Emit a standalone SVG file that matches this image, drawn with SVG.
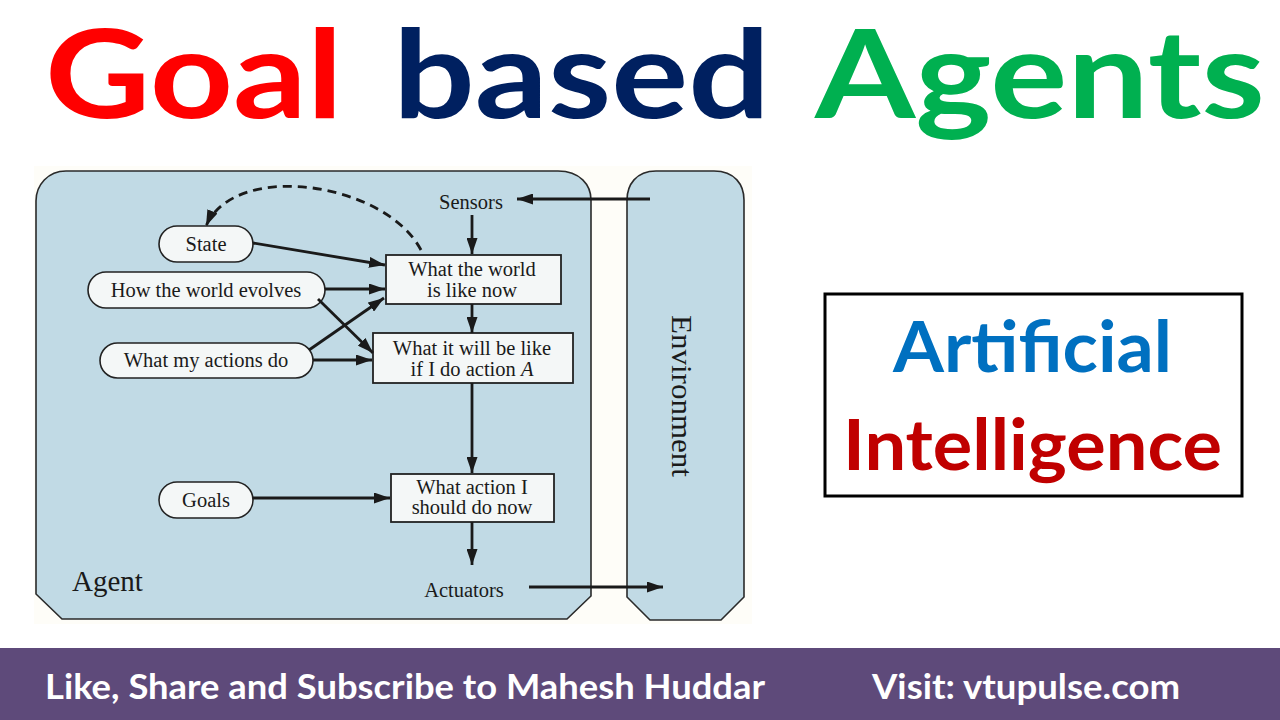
<svg xmlns="http://www.w3.org/2000/svg" width="1280" height="720" viewBox="0 0 1280 720">
<defs>
<marker id="ah" viewBox="0 0 16 11" refX="16" refY="5.5" markerWidth="16" markerHeight="11" markerUnits="userSpaceOnUse" orient="auto">
<path d="M0,0 L16,5.5 L0,11 Z" fill="#1a1a1a"/>
</marker>
<style>
.title{font-family:Lato,"Open Sans",sans-serif;font-weight:bold;}
.serif{font-family:"Liberation Serif","Times New Roman",serif;fill:#1a1a1a;}
.lbl{font-size:20.5px;text-anchor:middle;}
.pill{fill:#f4f7f7;stroke:#222;stroke-width:1.6;}
.box{fill:#f4f7f7;stroke:#222;stroke-width:1.8;}
.panel{fill:#c1dae5;stroke:#2a2a2a;stroke-width:1.6;}
.conn{stroke:#1a1a1a;stroke-width:2.8;fill:none;marker-end:url(#ah);}
.bar{font-family:Lato,"Open Sans",sans-serif;font-weight:bold;fill:#ffffff;font-size:35px;}
</style>
</defs>
<rect width="1280" height="720" fill="#ffffff"/>

<g id="title">
<text class="title" x="45" y="118" font-size="122" fill="#ff0000" textLength="298" lengthAdjust="spacingAndGlyphs">Goal</text>
<text class="title" x="393" y="118" font-size="122" fill="#002060" textLength="377" lengthAdjust="spacingAndGlyphs">based</text>
<text class="title" x="815" y="118" font-size="122" fill="#00b050" textLength="450" lengthAdjust="spacingAndGlyphs">Agents</text>
</g>

<rect x="34" y="166" width="718" height="458" fill="#fefdf8"/>

<g id="agent">
<path class="panel" d="M66 171 L558 171 C580 171 591 185 591 200 L591 596 L567 619 L62 619 L36 594 L36 201 C36 185 48 171 66 171 Z"/>
<text class="serif" x="72" y="591" font-size="29">Agent</text>
</g>

<g id="environment">
<path class="panel" d="M656 171 L714 171 C735 171 744 185 744 200 L744 597 L721 620 L650 620 L627 597 L627 200 C627 185 636 171 656 171 Z"/>
<text class="serif" transform="translate(672,396) rotate(90)" x="0" y="0" font-size="30" text-anchor="middle" textLength="162" lengthAdjust="spacingAndGlyphs">Environment</text>
</g>

<g id="sensors"><text class="serif lbl" x="471" y="209">Sensors</text></g>
<g id="actuators"><text class="serif lbl" x="464" y="597">Actuators</text></g>

<g id="state">
<rect class="pill" x="159" y="226" width="94" height="36" rx="18"/>
<text class="serif lbl" x="206" y="251">State</text>
</g>
<g id="how-world-evolves">
<rect class="pill" x="88" y="272" width="237" height="36" rx="18"/>
<text class="serif lbl" x="206" y="297">How the world evolves</text>
</g>
<g id="what-my-actions-do">
<rect class="pill" x="100" y="343" width="213" height="35" rx="17.5"/>
<text class="serif lbl" x="206" y="367">What my actions do</text>
</g>
<g id="goals">
<rect class="pill" x="159" y="482" width="94" height="36" rx="18"/>
<text class="serif lbl" x="206" y="507">Goals</text>
</g>

<g id="world-now">
<rect class="box" x="386" y="255" width="175" height="49"/>
<text class="serif lbl" x="472" y="276">What the world</text>
<text class="serif lbl" x="472" y="297">is like now</text>
</g>
<g id="will-be">
<rect class="box" x="373" y="333" width="200" height="50"/>
<text class="serif lbl" x="472" y="355">What it will be like</text>
<text class="serif lbl" x="472" y="376">if I do action <tspan font-style="italic">A</tspan></text>
</g>
<g id="action">
<rect class="box" x="391" y="474" width="163" height="48"/>
<text class="serif lbl" x="472" y="494">What action I</text>
<text class="serif lbl" x="472" y="514">should do now</text>
</g>

<g id="connectors">
<line class="conn" x1="650" y1="199" x2="517" y2="199"/>
<line class="conn" x1="472" y1="215" x2="472" y2="254"/>
<line class="conn" x1="472" y1="304" x2="472" y2="333"/>
<line class="conn" x1="472" y1="383" x2="472" y2="473"/>
<line class="conn" x1="472" y1="522" x2="472" y2="565"/>
<line class="conn" x1="529" y1="587" x2="663" y2="587"/>
<line class="conn" x1="253" y1="243" x2="385" y2="265"/>
<line class="conn" x1="325" y1="289" x2="385" y2="289"/>
<line class="conn" x1="318" y1="299" x2="373" y2="353"/>
<line class="conn" x1="309" y1="350" x2="384" y2="298"/>
<line class="conn" x1="313" y1="360" x2="372" y2="360"/>
<line class="conn" x1="253" y1="498" x2="390" y2="498"/>
<path class="conn" d="M421 250 C385 182 235 160 206 226" stroke-dasharray="9 6"/>
</g>

<g id="ai-box">
<rect x="825" y="294" width="417" height="202" fill="#ffffff" stroke="#000000" stroke-width="3"/>
<text class="title" x="893" y="372" font-size="70" fill="#0070c0" textLength="279" lengthAdjust="spacingAndGlyphs">Artificial</text>
<text class="title" x="843" y="470" font-size="70" fill="#c00000" textLength="379" lengthAdjust="spacingAndGlyphs">Intelligence</text>
</g>

<g id="footer">
<rect x="0" y="648" width="1280" height="72" fill="#5e4a7a"/>
<text class="bar" x="45" y="699" textLength="720" lengthAdjust="spacingAndGlyphs">Like, Share and Subscribe to Mahesh Huddar</text>
<text class="bar" x="872" y="699" textLength="308" lengthAdjust="spacingAndGlyphs">Visit: vtupulse.com</text>
</g>
</svg>
